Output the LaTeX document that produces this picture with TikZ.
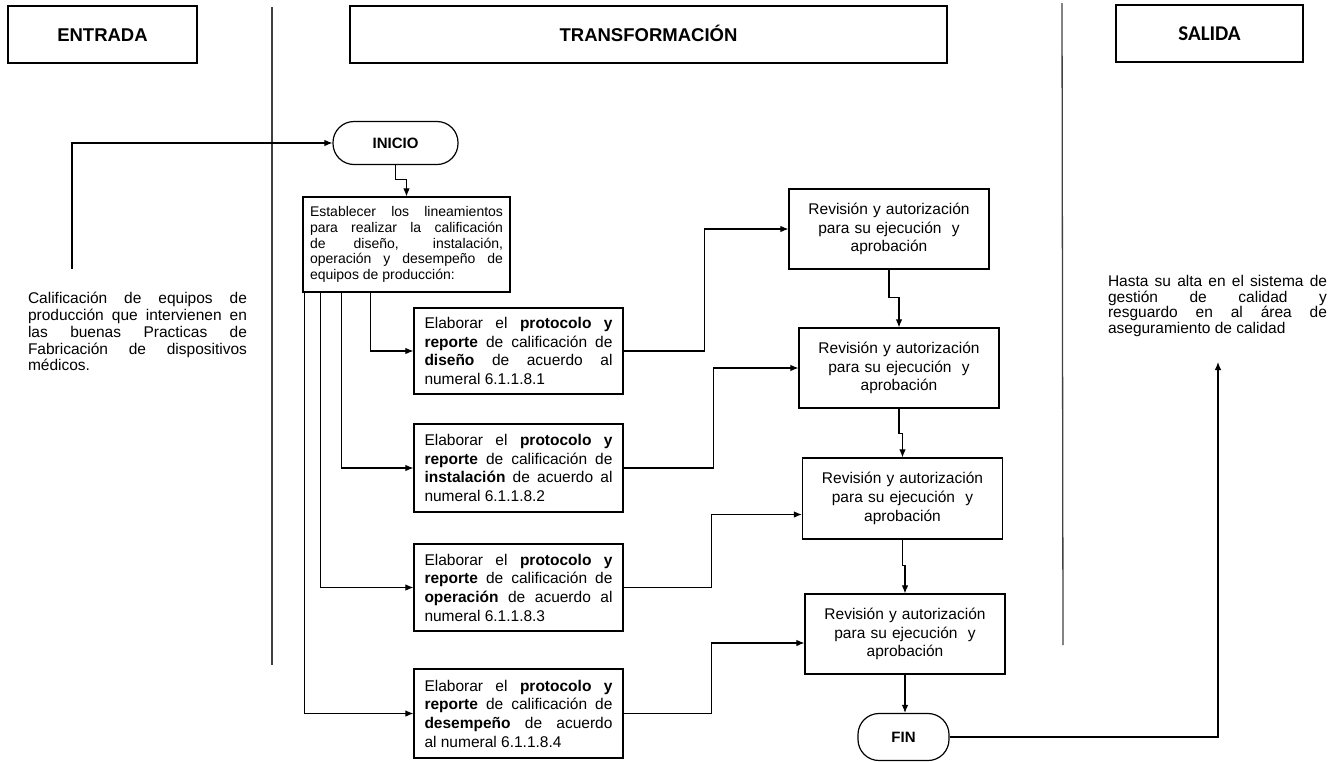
\documentclass[tikz,border=0pt]{standalone}
\usepackage{fontspec}
\setmainfont{Liberation Sans}
\newfontfamily\salidafont{Carlito}
\usetikzlibrary{arrows.meta}
\hyphenpenalty=10000
\exhyphenpenalty=10000
\tolerance=9999

\begin{document}
\begin{tikzpicture}[
		x=1pt, y=-1pt,
		hdr/.style={draw, line width=1.2pt, inner sep=0pt, minimum height=57pt, text height=13.3pt, text depth=0pt, font=\bfseries\fontsize{18.5}{20}\selectfont},
		term/.style={draw, line width=1.2pt, rounded corners=21pt, inner sep=0pt, font=\bfseries\fontsize{15}{17}\selectfont},
		tarea/.style={draw, line width=1.2pt, text width=188pt, inner xsep=10.5pt, inner ysep=0pt, align=justify, font=\fontsize{15.5}{18.7}\selectfont},
		revis/.style={draw, line width=1.2pt, text width=180pt, inner xsep=10pt, inner ysep=0pt, minimum height=80pt, align=center, font=\fontsize{15.5}{18.7}\selectfont},
		libre/.style={inner sep=0pt, text width=219pt, align=justify},
		lane/.style={line width=1.3pt, black!75},
		flow/.style={->, line width=1.1pt},
		>={Latex[length=8pt,width=6.5pt]}]
	\useasboundingbox (0,0) rectangle (1337,761);
	%% headers and lanes
	\node (entrada) at (102.5,34.5) [hdr, minimum width=189pt] {ENTRADA};
	\node (transf) at (648.5,34.5) [hdr, minimum width=597pt] {TRANSFORMACIÓN};
	\node (salida) at (1209.5,33.5) [hdr, minimum width=187pt, font=\salidafont\bfseries\fontsize{21}{22}\selectfont] {SALIDA};
	\draw[lane] (272,7) -- (272,665);
	\draw[lane] (1062,3) -- (1063,645);
	%% entrada y salida
	\node (cal) at (137.5,292) [libre, anchor=north, font=\fontsize{15.5}{16.8}\selectfont]
		{Calificación de equipos de\linebreak producción que intervienen en\linebreak las buenas Practicas de\linebreak Fabricación de dispositivos\linebreak médicos.};
	\node (hasta) at (1217.5,275) [libre, anchor=north, font=\fontsize{15.5}{15.7}\selectfont]
		{Hasta su alta en el sistema de\linebreak gestión de calidad y\linebreak resguardo en al área de\linebreak aseguramiento de calidad};
	\coordinate (e0) at (72,269);
	\coordinate (h0) at (1218,362);
	%% inicio and lineamientos
	\node (inicio) at (395.5,143) [term, minimum width=125pt, minimum height=43pt] {INICIO};
	\node (est) at (406.5,244.5) [draw, line width=1.2pt, text width=193pt, inner xsep=7pt, inner ysep=0pt, minimum height=95pt, align=justify, font=\fontsize{14}{15.6}\selectfont]
		{Establecer los lineamientos\linebreak para realizar la calificación\linebreak de diseño, instalación,\linebreak operación y desempeño de\linebreak equipos de producción:};
	%% elaborar
	\node (dis) at (518.5,351) [tarea, minimum height=86pt] {Elaborar el \textbf{protocolo y}\linebreak \textbf{reporte} de calificación de\linebreak \textbf{diseño} de acuerdo al\linebreak numeral 6.1.1.8.1};
	\node (ins) at (518.5,468) [tarea, minimum height=88pt] {Elaborar el \textbf{protocolo y}\linebreak \textbf{reporte} de calificación de\linebreak \textbf{instalación} de acuerdo al\linebreak numeral 6.1.1.8.2};
	\node (ope) at (518.5,587.5) [tarea, minimum height=87pt] {Elaborar el \textbf{protocolo y}\linebreak \textbf{reporte} de calificación de\linebreak \textbf{operación} de acuerdo al\linebreak numeral 6.1.1.8.3};
	\node (des) at (518.5,713.5) [tarea, minimum height=89pt] {Elaborar el \textbf{protocolo y}\linebreak \textbf{reporte} de calificación de\linebreak \textbf{desempeño} de acuerdo\linebreak al numeral 6.1.1.8.4};
	%% revision
	\node (r1) at (889,229) [revis] {Revisión y autorización\\para su ejecución~ y\\aprobación};
	\node (r2) at (899,368) [revis] {Revisión y autorización\\para su ejecución~ y\\aprobación};
	\node (r3) at (902.5,498.5) [revis, minimum height=81pt] {Revisión y autorización\\para su ejecución~ y\\aprobación};
	\node (r4) at (905,634) [revis] {Revisión y autorización\\para su ejecución~ y\\aprobación};
	\node (fin) at (903.5,737) [term, minimum width=91pt, minimum height=47pt] {FIN};
	%% connectors
	\draw[flow] (e0) |- (inicio.west);
	\draw[flow] (inicio.south) -- ++(0,14) -| (est.north);
	\draw[flow] ([xshift=68pt]est.south west) |- (dis.west);
	\draw[flow] ([xshift=39pt]est.south west) |- (ins.west);
	\draw[flow] ([xshift=18pt]est.south west) |- (ope.west);
	\draw[flow] ([xshift=2pt]est.south west) |- (des.west);
	\draw[flow] (dis.east) -- ++(81,0) |- (r1.west);
	\draw[flow] (ins.east) -- ++(90,0) |- (r2.west);
	\draw[flow] (ope.east) -- ++(88,0) |- ([yshift=-16pt]r3.west);
	\draw[flow] (des.east) -- ++(88,0) |- ([yshift=-9pt]r4.west);
	\draw[flow] (r1.south) -- ++(0,28) -| (r2.north);
	\draw[flow] (r2.south) -- ++(0,25) -| (r3.north);
	\draw[flow] (r3.south) -- ++(0,26) -| (r4.north);
	\draw[flow] (r4.south) -- (r4.south |- fin.north);
	\draw[flow] (fin.east) -| (h0);
\end{tikzpicture}
\end{document}
